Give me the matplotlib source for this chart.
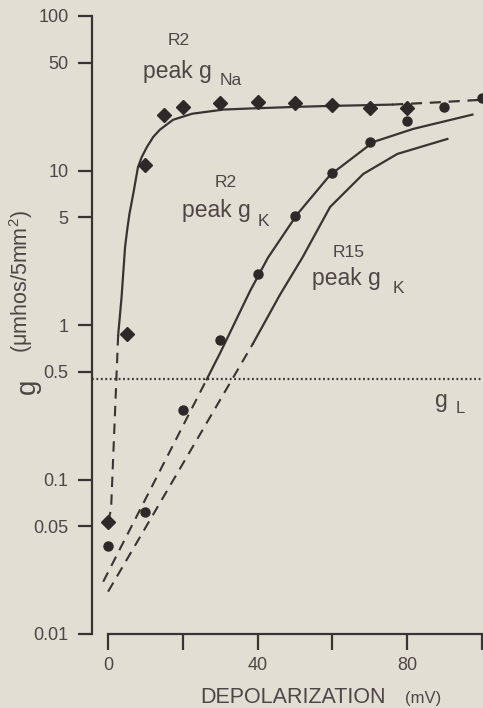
import numpy as np
import matplotlib
matplotlib.use('Agg')
import matplotlib.pyplot as plt

# Couleurs
bg = '#e2ded3'
ink = '#3b3333'
txt = '#4e4646'

plt.rcParams['font.family'] = ['Liberation Sans', 'DejaVu Sans']
plt.rcParams['mathtext.fontset'] = 'custom'
plt.rcParams['mathtext.rm'] = 'Liberation Sans'
plt.rcParams['mathtext.it'] = 'Liberation Sans'

# Points mesures : peak gNa (R2), losanges
na_mv = [0, 5, 10, 15, 20, 30, 40, 50, 60, 70, 80]
na_g = [0.053, 0.88, 10.9, 23, 25.9, 27.5, 27.9, 27.5, 26.7, 25.2, 25.3]

# Points mesures : peak gK (R2), cercles
k_mv = [0, 10, 20, 30, 40, 50, 60, 70, 80, 90, 100]
k_g = [0.037, 0.062, 0.28, 0.80, 2.15, 5.05, 9.6, 15.3, 21, 25.9, 29.6]

# Courbes ajustees
na_dash1_mv = [0, 0.8, 2.7]
na_dash1_g = [0.053, 0.064, 0.86]
na_fit_mv = [2.7, 3.6, 4.55, 5.1, 5.7, 6.8, 8.0, 9.0, 10.4, 12.1, 13.9, 17.4,
             22.5, 30.9, 38, 50, 60, 70, 76]
na_fit_g = [0.86, 1.5, 3.2, 4.1, 5.2, 7.2, 10.5, 12.2, 14.2, 16.5, 18.4, 21.3,
            23.3, 24.8, 25.2, 25.8, 26.2, 26.5, 26.7]
na_dash2_mv = [76, 88, 100]
na_dash2_g = [26.7, 27.6, 28.7]

k2_dash_mv = [-1.3, 26.4]
k2_dash_g = [0.0218, 0.445]
k2_fit_mv = [26.4, 30, 38, 42.8, 50.6, 59.4, 71, 81.7, 97.5]
k2_fit_g = [0.445, 0.66, 1.66, 2.73, 5.2, 9.34, 15.3, 18.6, 23]

k15_dash_mv = [0, 14.8, 33.2, 38.8]
k15_dash_g = [0.0188, 0.077, 0.445, 0.76]
k15_fit_mv = [38.8, 46, 52, 59.4, 68.3, 77.4, 90.8]
k15_fit_g = [0.76, 1.57, 2.73, 5.8, 9.5, 12.8, 16]

g_leak = 0.45

yticks = [0.01, 0.05, 0.1, 0.5, 1, 5, 10, 50, 100]
ytick_labels = ['0.01', '0.05', '0.1', '0.5', '1', '5', '10', '50', '100']
xticks = [0, 20, 40, 60, 80, 100]
xtick_labels = ['0', '', '40', '', '80', '']

W, H = 483, 708
fig = plt.figure(figsize=(W / 100, H / 100), dpi=100, facecolor=bg)
ax = fig.add_axes([92 / W, 74 / H, 390.5 / W, 618 / H])
ax.set_facecolor(bg)

dash = (0, (5, 3.5))
ax.plot(na_dash1_mv, na_dash1_g, color=ink, lw=1.5, linestyle=dash)
ax.plot(na_fit_mv, na_fit_g, color=ink, lw=1.6)
ax.plot(na_dash2_mv, na_dash2_g, color=ink, lw=1.6, linestyle=dash)
ax.plot(k2_dash_mv, k2_dash_g, color=ink, lw=1.5, linestyle=dash)
ax.plot(k2_fit_mv, k2_fit_g, color=ink, lw=1.6)
ax.plot(k15_dash_mv, k15_dash_g, color=ink, lw=1.5, linestyle=dash)
ax.plot(k15_fit_mv, k15_fit_g, color=ink, lw=1.6)
ax.axhline(g_leak, color=ink, lw=1.6, linestyle=(0, (0.8, 1.2)))

ax.plot(na_mv, na_g, 'D', color='#2e2828', ms=7.5, clip_on=False)
ax.plot(k_mv, k_g, 'o', color='#2e2828', ms=6.5, clip_on=False)

ax.set_yscale('log')
ax.set_xlim(-4.3, 100.2)
ax.set_ylim(0.01, 100)
ax.set_yticks(yticks)
ax.set_yticklabels(ytick_labels)
ax.minorticks_off()
ax.set_xticks(xticks)
ax.set_xticklabels(xtick_labels)

for s in ['top', 'right']:
    ax.spines[s].set_visible(False)
ax.spines['left'].set_bounds(0.01, 100)
ax.spines['bottom'].set_bounds(0, 100)
ax.spines['left'].set_color(ink)
ax.spines['bottom'].set_color(ink)
ax.spines['left'].set_linewidth(1.6)
ax.spines['bottom'].set_linewidth(1.6)
ax.tick_params(axis='y', direction='out', length=10, width=1.6, pad=7,
               labelsize=13, colors=ink, labelcolor=txt)
ax.tick_params(axis='x', direction='out', length=11.5, width=1.6, pad=5,
               labelsize=13, colors=ink, labelcolor=txt)


def ftext(x, y, s, size, **kw):
    fig.text(x / W, 1 - y / H, s, fontsize=size, color=txt, va='baseline', **kw)


# Etiquettes des courbes
ftext(168, 45, 'R2', 12.5)
ftext(143, 78, 'peak g', 16.5)
ftext(220, 85, 'Na', 12.5)
ftext(215, 187, 'R2', 12.5)
ftext(182, 217, 'peak g', 16.5)
ftext(258, 226, 'K', 12.5)
ftext(333, 257, 'R15', 12.5)
ftext(312, 285, 'peak g', 16.5)
ftext(393, 293, 'K', 12.5)
ftext(435, 407, 'g', 16.5)
ftext(456, 413, 'L', 12)

# Axes
fig.text(200 / W, 1 - 703 / H, 'DEPOLARIZATION', fontsize=15.5, color=txt,
         va='baseline', family=['Liberation Sans Narrow', 'Liberation Sans'])
ftext(405, 703, '(mV)', 12)
fig.text(28 / W, 1 - 386 / H, 'g', fontsize=20, color=txt, rotation=90,
         ha='center', va='center')
fig.text(21 / W, 1 - 282 / H, r'($\mu$mhos/5mm$^{2}$)', fontsize=15.5, color=txt,
         rotation=90, ha='center', va='center')

fig.savefig('out.png', dpi=100, facecolor=bg)
